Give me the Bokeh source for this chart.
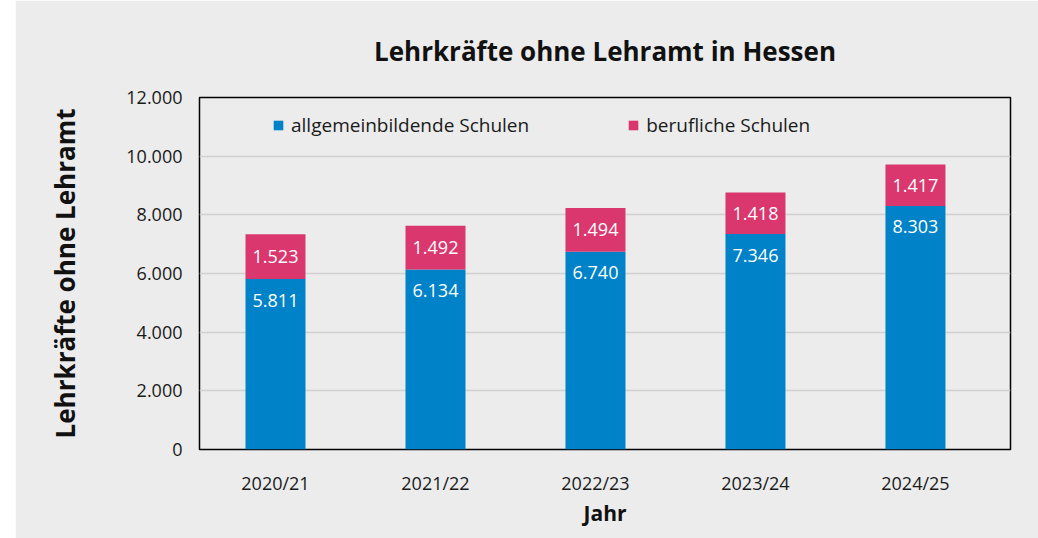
from bokeh.plotting import figure
from bokeh.layouts import row
from bokeh.models import ColumnDataSource, Range1d, FixedTicker, Legend, LegendItem, Spacer
from bokeh.core.properties import value
from bokeh.embed import file_html
from bokeh.resources import INLINE

years = ["2020/21", "2021/22", "2022/23", "2023/24", "2024/25"]
allgemein = [5811, 6134, 6740, 7346, 8303]
beruflich = [1523, 1492, 1494, 1418, 1417]
y_ticks = [0, 2000, 4000, 6000, 8000, 10000, 12000]

def de(n):
    return f"{n:,}".replace(",", ".")

FONT = "Open Sans"
BLUE = "#0082c8"
PINK = "#d9376e"
BG = "#ececec"

xpos = list(range(len(years)))
src = ColumnDataSource(dict(
    x=xpos,
    allgemein=allgemein,
    beruflich=beruflich,
    mid_b=[a + b / 2 for a, b in zip(allgemein, beruflich)],
    lab_a=[de(v) for v in allgemein],
    lab_b=[de(v) for v in beruflich],
))

p = figure(x_range=Range1d(-0.475, 4.594), y_range=Range1d(0, 12000), width=1023, height=538,
           output_backend="svg", toolbar_location=None,
           min_border_left=184, min_border_right=28, min_border_top=97, min_border_bottom=89)
p.background_fill_color = BG
p.border_fill_color = BG
p.outline_line_color = "black"
p.outline_line_width = 1.5

r = p.vbar_stack(["allgemein", "beruflich"], x="x", width=0.375, color=[BLUE, PINK],
                 source=src, line_color=None)

p.text(x="x", y="allgemein", text="lab_a", source=src, text_color="white",
       text_font=value(FONT), text_font_size="18px", text_align="center",
       text_baseline="middle", y_offset=21)
p.text(x="x", y="mid_b", text="lab_b", source=src, text_color="white",
       text_font=value(FONT), text_font_size="18px", text_align="center",
       text_baseline="middle")

p.title.text = "Lehrkräfte ohne Lehramt in Hessen"
p.title.align = "center"
p.title.text_font = FONT
p.title.text_font_size = "26px"
p.title.text_font_style = "bold"
p.title.text_color = "#111111"
p.title.text_line_height = 1.0
p.title.standoff = 58

p.xgrid.grid_line_color = None
p.ygrid.grid_line_color = "#d0d0d0"
p.ygrid.grid_line_width = 1.5

p.xaxis.ticker = FixedTicker(ticks=xpos)
p.xaxis.major_label_overrides = {i: y for i, y in zip(xpos, years)}
p.yaxis.ticker = FixedTicker(ticks=y_ticks)
p.yaxis.major_label_overrides = {t: de(t) for t in y_ticks}
for ax in (p.xaxis[0], p.yaxis[0]):
    ax.axis_line_color = None
    ax.major_tick_line_color = None
    ax.minor_tick_line_color = None
    ax.major_label_text_font = FONT
    ax.major_label_text_font_size = "18px"
    ax.major_label_text_color = "#1a1a1a"
    ax.axis_label_text_font = FONT
    ax.axis_label_text_font_style = "bold"
    ax.axis_label_text_color = "#111111"
p.yaxis.major_label_standoff = 11
p.xaxis.major_label_standoff = 15
p.yaxis.axis_label = "Lehrkräfte ohne Lehramt"
p.yaxis.axis_label_text_font_size = "26px"
p.yaxis.axis_label_standoff = 40
p.xaxis.axis_label = "Jahr"
p.xaxis.axis_label_text_font_size = "21px"
p.xaxis.axis_label_standoff = 1

legend = Legend(items=[LegendItem(label="allgemeinbildende Schulen", renderers=[r[0]]),
                       LegendItem(label="berufliche Schulen", renderers=[r[1]])],
                orientation="horizontal", location=(73, 311),
                glyph_width=12, glyph_height=12, label_standoff=7, spacing=98,
                padding=0, margin=0, border_line_color=None, background_fill_alpha=0,
                label_text_font=FONT, label_text_font_size="19px", label_text_color="#1a1a1a")
p.add_layout(legend)

layout = row(Spacer(width=15, height=538), p)
open("out.html", "w").write(file_html(layout, INLINE))
